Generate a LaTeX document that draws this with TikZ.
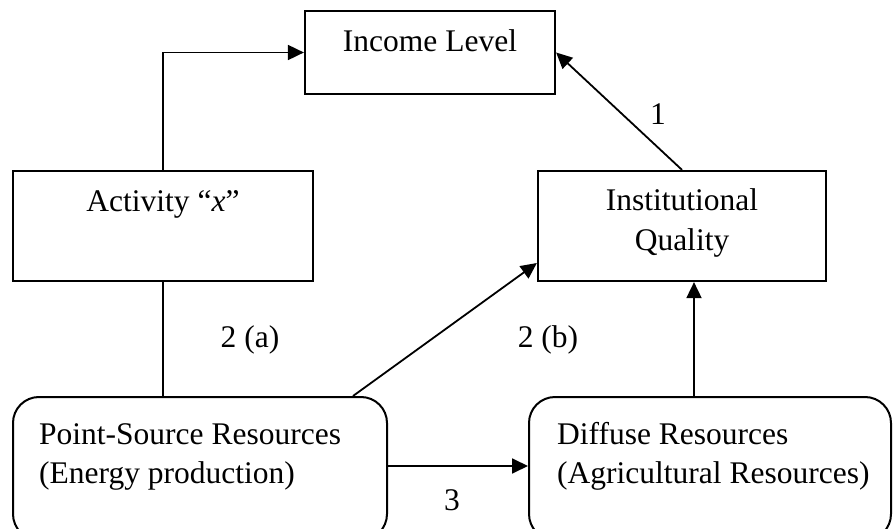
\documentclass[tikz,border=0pt]{standalone}
\usepackage{fontspec}
\setmainfont{Liberation Serif}
\usetikzlibrary{arrows.meta,calc}
\begin{document}
\begin{tikzpicture}[x=1pt,y=-1pt,
  box/.style={draw, line width=2.2pt, rectangle, inner sep=0pt},
  rbox/.style={draw, line width=2pt, rectangle, rounded corners=26pt, inner sep=0pt},
  txt/.style={anchor=base, inner sep=0pt, font=\fontsize{31.5}{38}\selectfont},
  conn/.style={line width=1.8pt, -{Triangle[length=16pt,width=15pt]}},
  plainline/.style={line width=1.8pt}]
\useasboundingbox (0,0) rectangle (896,529);
% boxes
\node[box, minimum width=250pt, minimum height=83pt] (inc) at (430,52.5) {};
\node[box, minimum width=300pt, minimum height=110pt] (act) at (163,226) {};
\node[box, minimum width=288pt, minimum height=110pt] (inst) at (682,226) {};
\node[rbox, minimum width=374pt, minimum height=143pt] (ps) at (200,468.5) {};
\node[rbox, minimum width=362pt, minimum height=143pt] (diff) at (710,468.5) {};
% texts
\node[txt] (tinc) at (430,52) {Income Level};
\node[txt] (tact) at (163,212) {Activity “\textit{x}”};
\node[txt] (tinst1) at (682,211) {Institutional};
\node[txt] (tinst2) at (682,251) {Quality};
\node[txt, anchor=base west] (tps1) at (39,444) {Point-Source Resources};
\node[txt, anchor=base west] (tps2) at (39,483) {(Energy production)};
\node[txt, anchor=base west] (td1) at (557,444) {Diffuse Resources};
\node[txt, anchor=base west] (td2) at (557,483) {(Agricultural Resources)};
% labels
\node[txt] (l1) at (658,125) {1};
\node[txt] (l2a) at (250,347) {2 (a)};
\node[txt] (l2b) at (548,347) {2 (b)};
\node[txt] (l3) at (452,510) {3};
% connectors
\draw[conn] (act.north) -- (act.north |- inc.west) -- (inc.west);
\draw[plainline] (act.south) -- (act.south |- ps.north);
\draw[conn] (inst.north) -- (inc.east);
\draw[conn] (ps.north -| 353,0) -- (inst.west |- 0,263);
\draw[conn] (diff.north -| 694,0) -- (inst.south -| 694,0);
\draw[conn] (ps.east |- 0,466) -- (diff.west |- 0,466);
\end{tikzpicture}
\end{document}
